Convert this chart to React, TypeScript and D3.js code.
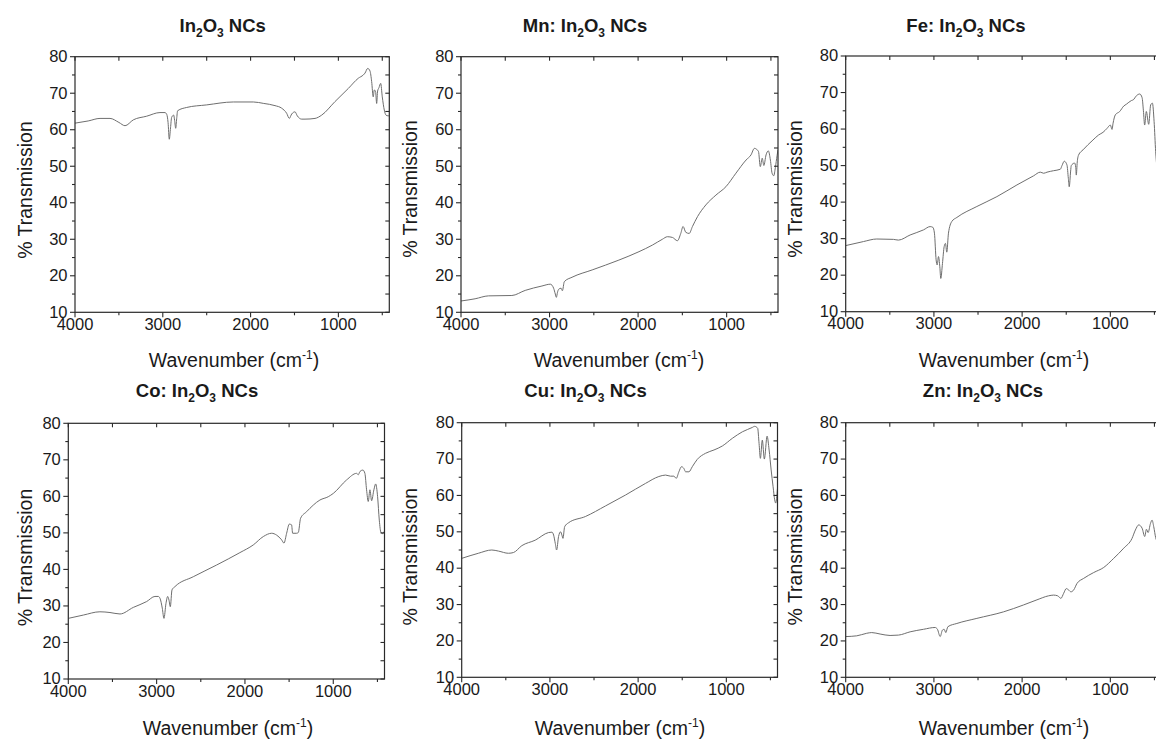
import React from 'react';
import * as d3 from 'd3';

const W = 1156;
const H = 740;

// ---- data: [wavenumber (cm^-1), % transmission] ----
const in2o3: [number, number][] = [
  [4000, 61.8], [3850, 62.4], [3715, 63.1], [3601, 63.1], [3500, 62.0], [3430, 61.1], [3336, 62.7], [3184, 63.7],
  [3032, 64.7], [2975, 64.7], [2955, 64.2], [2940, 62], [2926, 57.4], [2912, 60.5], [2899, 63.4], [2876, 64],
  [2865, 62.5], [2853, 60.4], [2842, 63], [2831, 65.2], [2728, 66.1], [2500, 66.8], [2197, 67.6], [1969, 67.6],
  [1850, 67.2], [1722, 66.6], [1646, 65.9], [1589, 64.5], [1559, 63.1], [1532, 64.3], [1494, 64.9], [1468, 63.8],
  [1418, 62.9], [1380, 62.9], [1266, 63.1], [1190, 64], [1039, 67.7], [887, 71.3], [773, 74.1], [716, 75],
  [697, 75.5], [666, 76.8], [640, 76.1], [621, 73.2], [603, 69], [591, 70.9], [576, 70.4], [564, 67.2],
  [553, 70.6], [538, 71.5], [518, 72.7], [500, 69], [477, 65.4], [458, 64], [432, 63.8], [420, 64],
];

const mn: [number, number][] = [
  [4000, 13.1], [3841, 13.7], [3690, 14.5], [3426, 14.6], [3275, 16], [3086, 17.2], [2991, 17.7], [2954, 16.6],
  [2935, 15], [2923, 14.1], [2910, 15.5], [2897, 16.3], [2870, 16.6], [2855, 15.9], [2833, 18.4], [2746, 19.6],
  [2519, 21.6], [2217, 24.3], [1990, 26.6], [1839, 28.4], [1726, 30], [1669, 30.7], [1612, 30.5], [1556, 29.6],
  [1518, 31.6], [1492, 33.5], [1461, 31.9], [1423, 31.6], [1386, 33.5], [1329, 36.2], [1235, 39.4], [1121, 42.1],
  [1008, 44.4], [895, 48.1], [781, 51.7], [725, 53.1], [686, 54.9], [660, 54.6], [640, 54], [620, 49.9],
  [598, 52.2], [580, 50.2], [555, 53.1], [529, 54.2], [506, 51.7], [487, 48.1], [468, 47.4], [450, 49.6],
  [430, 53], [420, 54.5],
];

const fe: [number, number][] = [
  [4000, 28.1], [3799, 29.2], [3648, 29.9], [3459, 29.8], [3402, 29.6], [3270, 31], [3118, 32.4], [3043, 33.3],
  [3012, 33.1], [2994, 31.5], [2975, 24.2], [2963, 22.8], [2948, 25.1], [2933, 22.3], [2922, 19.1], [2903, 23.2],
  [2884, 27.8], [2869, 28.7], [2854, 26.3], [2835, 31.5], [2797, 34.7], [2740, 35.8], [2513, 38.8], [2286, 41.5],
  [2059, 44.7], [1870, 47.2], [1794, 48.2], [1756, 47.9], [1718, 48.2], [1643, 48.6], [1567, 49], [1548, 50],
  [1522, 51.2], [1492, 50.2], [1476, 46.5], [1466, 44.2], [1450, 48.5], [1443, 50], [1405, 50.7], [1392, 49.5],
  [1386, 47.4], [1375, 51], [1360, 52.9], [1310, 54.3], [1197, 57], [1132, 58.4], [1083, 59.1], [1037, 60.2],
  [1000, 61.1], [981, 59.9], [969, 61.6], [943, 63.9], [894, 64.8], [848, 66.3], [818, 66.8], [762, 67.8],
  [740, 68.0], [705, 69.1], [667, 69.6], [640, 68.6], [625, 65], [611, 61.1], [592, 64.8], [565, 61.3],
  [543, 66.6], [523, 67.1], [504, 62.1], [486, 53.8], [470, 49], [450, 46], [420, 44],
];

const co: [number, number][] = [
  [4000, 26.6], [3830, 27.5], [3642, 28.4], [3528, 28.2], [3415, 27.8], [3264, 29.6], [3113, 31.2], [3019, 32.6],
  [2981, 32.6], [2962, 32.1], [2936, 29.4], [2917, 26.6], [2894, 30.7], [2875, 32.6], [2860, 31.6], [2845, 29.8],
  [2826, 34.4], [2792, 35.3], [2585, 38], [2321, 41.2], [2057, 44.6], [1906, 46.7], [1792, 49], [1698, 49.9],
  [1642, 49.4], [1585, 48.1], [1558, 47.2], [1528, 49.9], [1498, 52.4], [1472, 52.2], [1460, 49.9], [1415, 49.9],
  [1396, 50.1], [1370, 54], [1302, 55.8], [1151, 59], [1057, 59.9], [1000, 60.8], [849, 64.5], [736, 66.3],
  [717, 65.9], [698, 66.8], [665, 67.2], [642, 66.3], [623, 61.8], [604, 58.6], [585, 61.8], [566, 58.8],
  [540, 61.8], [520, 63.4], [498, 59.9], [479, 53.5], [460, 50.1], [440, 49.8], [420, 50.5],
];

const cu: [number, number][] = [
  [4000, 42.7], [3811, 44.1], [3659, 45], [3583, 44.7], [3470, 44.1], [3413, 44.3], [3318, 46.2], [3167, 47.7],
  [3015, 49.8], [2977, 49.9], [2958, 49.1], [2939, 46.8], [2924, 45], [2902, 48.7], [2879, 50], [2864, 49.1],
  [2852, 48.2], [2833, 51.4], [2788, 52.5], [2598, 54.2], [2371, 57.1], [2144, 60.1], [1917, 63.3], [1765, 65.2],
  [1689, 65.6], [1633, 65.3], [1595, 65.3], [1568, 64.7], [1538, 66.5], [1508, 67.9], [1481, 67.4], [1462, 66.5],
  [1424, 66.5], [1386, 67.9], [1330, 69.9], [1235, 71.6], [1140, 72.5], [1045, 73.6], [932, 75.7], [818, 77.5],
  [705, 78.7], [680, 79], [645, 78.5], [629, 74.3], [614, 70.2], [592, 75.2], [569, 70], [538, 76.3],
  [515, 72.5], [492, 67], [470, 62.4], [452, 58.8], [440, 57.9], [425, 60.6], [420, 62],
];

const zn: [number, number][] = [
  [4000, 21.2], [3875, 21.4], [3762, 22.1], [3705, 22.3], [3610, 21.9], [3497, 21.5], [3402, 21.6], [3270, 22.5],
  [3118, 23.2], [2986, 23.7], [2960, 23.2], [2929, 21.2], [2903, 23], [2884, 23.2], [2865, 22.3], [2842, 23.9],
  [2740, 24.8], [2513, 26.2], [2210, 28], [1983, 29.9], [1832, 31.3], [1700, 32.4], [1643, 32.6], [1597, 32.4],
  [1560, 31.7], [1529, 33.1], [1499, 34.4], [1473, 34], [1446, 33.5], [1416, 34], [1378, 35.8], [1302, 37.2],
  [1189, 38.8], [1075, 40.2], [962, 42.7], [848, 45.5], [754, 48.2], [716, 50.5], [678, 51.9], [640, 51],
  [610, 48.7], [591, 50.7], [572, 49.8], [545, 52.3], [527, 53.2], [508, 51.4], [486, 48.4], [460, 47], [420, 46],
];

const dopants = ['', 'Mn: ', 'Fe: ', 'Co: ', 'Cu: ', 'Zn: '];
const series = [in2o3, mn, fe, co, cu, zn];
const xMajorTicks = [4000, 3000, 2000, 1000];
const xAllTicks = [4000, 3500, 3000, 2500, 2000, 1500, 1000, 500];
const yMajorTicks = [10, 20, 30, 40, 50, 60, 70, 80];
const yAllTicks = [10, 15, 20, 25, 30, 35, 40, 45, 50, 55, 60, 65, 70, 75, 80];
const xDomain: [number, number] = [4000, 420];
const yDomain: [number, number] = [10, 80];

// ---- layout ----
const layout = [
  { l: 75, r: 389.3, t: 56.7, b: 312.3, tx: 222.7, ty: 31.7, ylx: 31.5, yly: 190, xlx: 234, xly: 366.7 },
  { l: 461, r: 778, t: 56.7, b: 312.3, tx: 585, ty: 31.7, ylx: 416.5, yly: 189, xlx: 619, xly: 366.7 },
  { l: 845.7, r: 1161.5, t: 56, b: 311.7, tx: 966, ty: 31.7, ylx: 801.5, yly: 189, xlx: 1004, xly: 366.7 },
  { l: 68.3, r: 384.5, t: 423.3, b: 679, tx: 197, ty: 396.7, ylx: 31.5, yly: 557.5, xlx: 228, xly: 735 },
  { l: 461.7, r: 777.5, t: 422.7, b: 677.3, tx: 585.5, ty: 396.7, ylx: 416.5, yly: 556.7, xlx: 620, xly: 735 },
  { l: 845.7, r: 1161.5, t: 422.7, b: 677.3, tx: 983, ty: 396.7, ylx: 801.5, yly: 556.7, xlx: 1004, xly: 735 },
];

const FONT = '"Liberation Sans", Arial, Helvetica, sans-serif';
const TEXT = '#1a1a1a';
const FRAME = '#2a2a2a';
const CURVE = '#6e6e6e';

function Panel({ idx }: { idx: number }) {
  const L = layout[idx];
  const data = series[idx];
  const x = d3.scaleLinear().domain(xDomain).range([L.l, L.r]);
  const y = d3.scaleLinear().domain(yDomain).range([L.b, L.t]);
  const line = d3
    .line<[number, number]>()
    .x((d) => x(d[0]))
    .y((d) => y(d[1]))
    .curve(d3.curveMonotoneX);
  const clipId = `clip${idx}`;
  return (
    <g>
      <defs>
        <clipPath id={clipId}>
          <rect x={L.l} y={L.t} width={L.r - L.l} height={L.b - L.t} />
        </clipPath>
      </defs>
      <path d={line(data) || ''} fill="none" stroke={CURVE} strokeWidth={1} clipPath={`url(#${clipId})`} />
      {/* frame */}
      <rect x={L.l} y={L.t} width={L.r - L.l} height={L.b - L.t} fill="none" stroke={FRAME} strokeWidth={1.2} />
      {/* bottom ticks (outward) */}
      {xAllTicks.map((v) => {
        const major = xMajorTicks.includes(v);
        return (
          <line key={`bx${v}`} x1={x(v)} x2={x(v)} y1={L.b} y2={L.b + (major ? 5 : 3)} stroke={FRAME} strokeWidth={1.1} />
        );
      })}
      {/* top ticks (inward) */}
      {xAllTicks.map((v) => (
        <line key={`tx${v}`} x1={x(v)} x2={x(v)} y1={L.t} y2={L.t + 4} stroke={FRAME} strokeWidth={1.1} />
      ))}
      {/* left ticks (outward) */}
      {yAllTicks.map((v) => {
        const major = yMajorTicks.includes(v);
        return (
          <line key={`ly${v}`} x1={L.l - (major ? 5 : 3)} x2={L.l} y1={y(v)} y2={y(v)} stroke={FRAME} strokeWidth={1.1} />
        );
      })}
      {/* right ticks (inward) */}
      {yAllTicks.map((v) => (
        <line key={`ry${v}`} x1={L.r - 4} x2={L.r} y1={y(v)} y2={y(v)} stroke={FRAME} strokeWidth={1.1} />
      ))}
      {/* tick labels */}
      {xMajorTicks.map((v) => (
        <text key={`xl${v}`} x={x(v)} y={L.b + 17.5} textAnchor="middle" fontSize={16.5} fontFamily={FONT} fill={TEXT}>
          {v}
        </text>
      ))}
      {yMajorTicks.map((v) => (
        <text key={`yl${v}`} x={L.l - 7.5} y={y(v) + 5.3} textAnchor="end" fontSize={16.5} fontFamily={FONT} fill={TEXT}>
          {v}
        </text>
      ))}
      {/* title */}
      <text x={L.tx} y={L.ty} textAnchor="middle" fontSize={18.5} fontWeight="bold" fontFamily={FONT} fill={TEXT}>
        <tspan>{dopants[idx]}In</tspan>
        <tspan dy={5.5} fontSize={12}>2</tspan>
        <tspan dy={-5.5}>O</tspan>
        <tspan dy={5.5} fontSize={12}>3</tspan>
        <tspan dy={-5.5}> NCs</tspan>
      </text>
      {/* axis labels */}
      <text
        transform={`translate(${L.ylx},${L.yly}) rotate(-90)`}
        textAnchor="middle"
        fontSize={19.5}
        fontFamily={FONT}
        fill={TEXT}
      >
        % Transmission
      </text>
      <text x={L.xlx} y={L.xly} textAnchor="middle" fontSize={19.5} fontFamily={FONT} fill={TEXT}>
        <tspan>Wavenumber (cm</tspan>
        <tspan dy={-8} fontSize={12}>-1</tspan>
        <tspan dy={8}>)</tspan>
      </text>
    </g>
  );
}

export default function App() {
  return (
    <svg
      width={W}
      height={H}
      viewBox={`0 0 ${W} ${H}`}
      style={{ position: 'absolute', left: 0, top: 0, background: '#fff', overflow: 'hidden' }}
    >
      <rect x={0} y={0} width={W} height={H} fill="#fff" />
      {series.map((_, i) => (
        <Panel key={i} idx={i} />
      ))}
    </svg>
  );
}
